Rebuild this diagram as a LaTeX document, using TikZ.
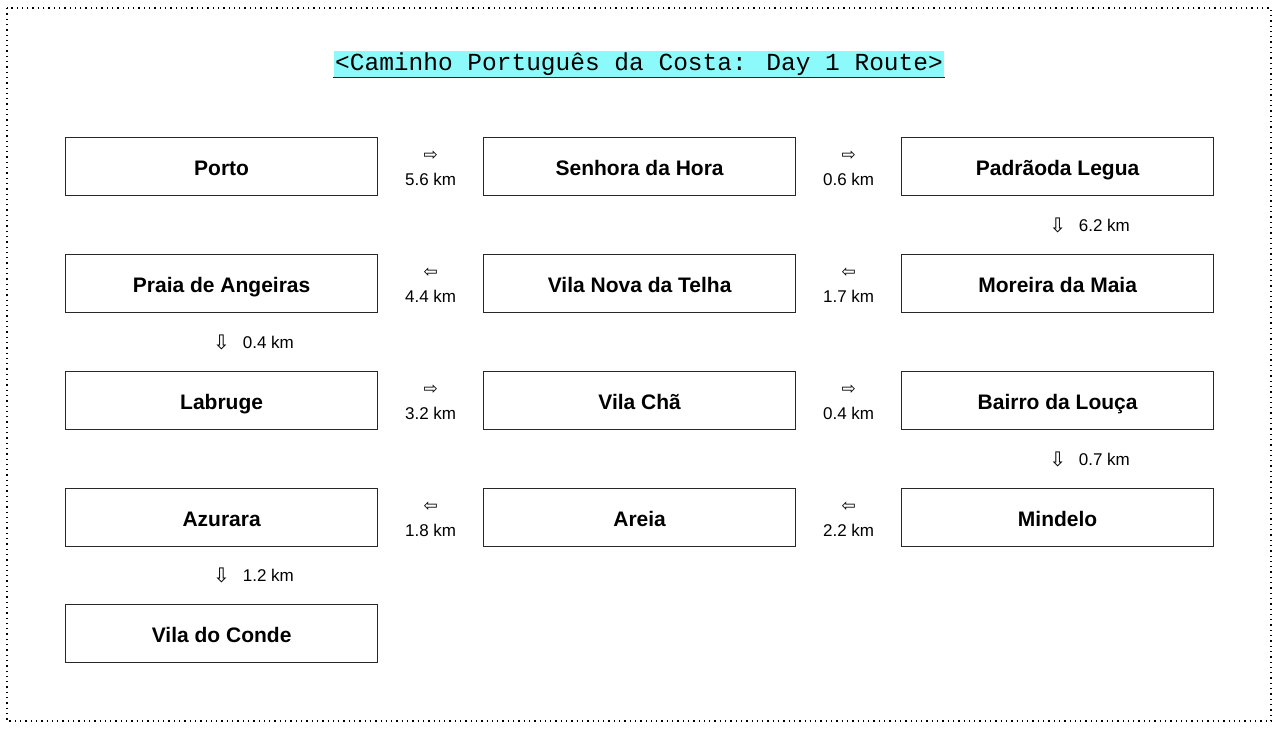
\documentclass[tikz,border=0pt]{standalone}
\usepackage{fontspec}
\setmainfont{Liberation Sans}
\newfontfamily\titlefont{Liberation Mono}
\newfontfamily\symfont{DejaVu Sans}
\usetikzlibrary{calc}
\definecolor{titlebg}{RGB}{140,250,250}
\definecolor{boxline}{RGB}{40,40,40}
\tikzset{
  stop/.style={draw=boxline, line width=1.25pt, minimum width=312pt, minimum height=58pt, inner sep=0pt,
    text height=19pt, text depth=2pt,
    font=\fontsize{21}{24}\selectfont\bfseries, anchor=north west},
  harrow/.style={font=\symfont\fontsize{17}{18}\selectfont, inner sep=0pt, yshift=11pt},
  hlabel/.style={font=\fontsize{17}{19}\selectfont, inner sep=0pt, yshift=-13pt, text height=12pt, text depth=0pt},
  varrow/.style={font=\symfont\fontsize{20}{22}\selectfont, inner sep=0pt},
  vlabel/.style={font=\fontsize{17}{19}\selectfont, inner sep=0pt, anchor=west, xshift=21pt},
}
\begin{document}
\begin{tikzpicture}[x=1pt,y=-1pt]
\useasboundingbox (0,0) rectangle (1280,731);
\draw[line width=1.3pt, dash pattern=on 1.3pt off 4pt] (7,8) rectangle (1271,721);
\node[fill=titlebg, inner xsep=1.5pt, inner ysep=0pt, minimum height=27pt,
  font=\titlefont\fontsize{24.5}{28}\selectfont] (title) at (639,64) {<Caminho Português da Costa: Day 1 Route>};
\draw[line width=1.2pt, black!85] (title.south west) -- (title.south east);
% row 1
\node[stop] (porto) at (65,137) {Porto};
\node[stop] (senhora) at (483,137) {Senhora da Hora};
\node[stop] (padrao) at (901,137) {Padrãoda Legua};
% row 2
\node[stop] (praia) at (65,254) {Praia de Angeiras};
\node[stop] (vilanova) at (483,254) {Vila Nova da Telha};
\node[stop] (moreira) at (901,254) {Moreira da Maia};
% row 3
\node[stop] (labruge) at (65,371) {Labruge};
\node[stop] (vilacha) at (483,371) {Vila Chã};
\node[stop] (bairro) at (901,371) {Bairro da Louça};
% row 4
\node[stop] (azurara) at (65,488) {Azurara};
\node[stop] (areia) at (483,488) {Areia};
\node[stop] (mindelo) at (901,488) {Mindelo};
% row 5
\node[stop] (conde) at (65,604) {Vila do Conde};
% connectors
\path (porto.east) -- node[harrow]{⇨} node[hlabel]{5.6 km} (senhora.west);
\path (senhora.east) -- node[harrow]{⇨} node[hlabel]{0.6 km} (padrao.west);
\path (padrao.south) -- node[varrow]{⇩} node[vlabel]{6.2 km} (moreira.north);
\path (moreira.west) -- node[harrow]{⇦} node[hlabel]{1.7 km} (vilanova.east);
\path (vilanova.west) -- node[harrow]{⇦} node[hlabel]{4.4 km} (praia.east);
\path (praia.south) -- node[varrow]{⇩} node[vlabel]{0.4 km} (labruge.north);
\path (labruge.east) -- node[harrow]{⇨} node[hlabel]{3.2 km} (vilacha.west);
\path (vilacha.east) -- node[harrow]{⇨} node[hlabel]{0.4 km} (bairro.west);
\path (bairro.south) -- node[varrow]{⇩} node[vlabel]{0.7 km} (mindelo.north);
\path (mindelo.west) -- node[harrow]{⇦} node[hlabel]{2.2 km} (areia.east);
\path (areia.west) -- node[harrow]{⇦} node[hlabel]{1.8 km} (azurara.east);
\path (azurara.south) -- node[varrow]{⇩} node[vlabel]{1.2 km} (conde.north);
\end{tikzpicture}
\end{document}
